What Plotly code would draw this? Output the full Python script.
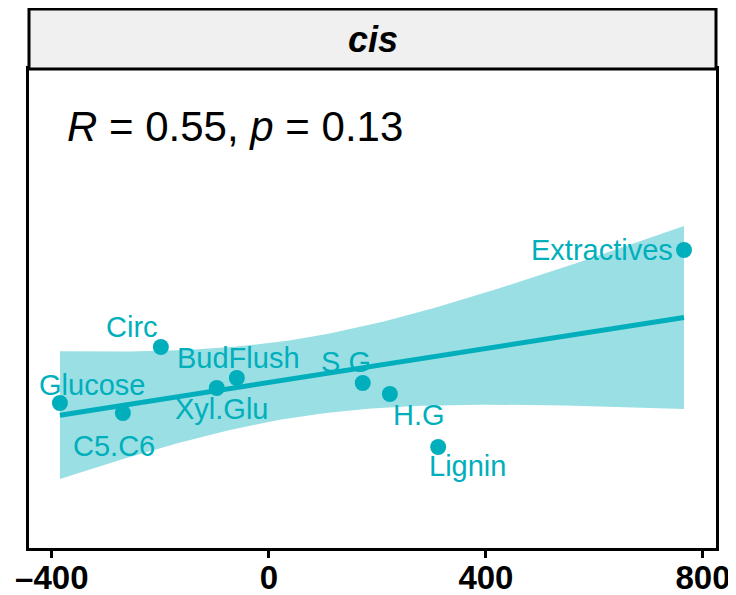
import numpy as np
import plotly.graph_objects as go

# Data (y axis has no labels, so y is in arbitrary units)
labels = ["Extractives", "Circ", "BudFlush", "S.G", "H.G", "Glucose", "Xyl.Glu", "C5.C6", "Lignin"]
x_vals = [765, -199, -59, 173, 223, -385, -96, -269, 312]
y_vals = [29.8, 20.1, 17.0, 16.5, 15.4, 14.5, 16.0, 13.5, 10.1]
stat_label = "<i>R</i> = 0.55, <i>p</i> = 0.13"
panel_title = "cis"
x_ticks = [-400, 0, 400, 800]

# label placement (pixel offsets from each point, like ggrepel output)
label_shift = {
    "Extractives": (-9, 0, "right"),
    "Circ": (-29, 20, "center"),
    "BudFlush": (2, 20, "center"),
    "S.G": (-17, 21, "center"),
    "H.G": (29, -21, "center"),
    "Glucose": (32, 18, "center"),
    "Xyl.Glu": (5, -21, "center"),
    "C5.C6": (-9, -33, "center"),
    "Lignin": (29, -19, "center"),
}

COL = "#00AFBB"
BAND = "rgba(0,175,187,0.4)"
FONT = "Liberation Sans, Arial, sans-serif"


def linear_fit(x, y, n_pts=80, t_crit=2.364624):
    """Least squares line with 95% confidence band (like geom_smooth(method='lm'))."""
    x = np.asarray(x, float)
    y = np.asarray(y, float)
    n = len(x)
    slope, intercept = np.polyfit(x, y, 1)
    resid = y - (slope * x + intercept)
    s = np.sqrt(np.sum(resid ** 2) / (n - 2))
    sxx = np.sum((x - x.mean()) ** 2)
    xs = np.linspace(x.min(), x.max(), n_pts)
    fit = slope * xs + intercept
    se = s * np.sqrt(1 / n + (xs - x.mean()) ** 2 / sxx)
    return xs, fit, fit - t_crit * se, fit + t_crit * se


xs, fit, lo, hi = linear_fit(x_vals, y_vals)

fig = go.Figure()
fig.add_trace(go.Scatter(
    x=np.concatenate([xs, xs[::-1]]), y=np.concatenate([hi, lo[::-1]]),
    fill="toself", fillcolor=BAND, line=dict(width=0), mode="lines",
    hoverinfo="skip", showlegend=False))
fig.add_trace(go.Scatter(x=xs, y=fit, mode="lines", line=dict(color=COL, width=5),
                         showlegend=False))
fig.add_trace(go.Scatter(x=x_vals, y=y_vals, mode="markers",
                         marker=dict(color=COL, size=16), showlegend=False))

for lab, xv, yv in zip(labels, x_vals, y_vals):
    dx, dy, anchor = label_shift[lab]
    fig.add_annotation(x=xv, y=yv, text=lab, showarrow=False, xshift=dx, yshift=dy,
                       xanchor=anchor, yanchor="middle",
                       font=dict(family=FONT, size=29, color=COL))

fig.add_annotation(xref="paper", yref="paper", x=0.052, y=0.881, text=stat_label,
                   showarrow=False, xanchor="left", yanchor="middle",
                   font=dict(family=FONT, size=42, color="black"))

# facet strip
strip_h = 60 / 479
fig.add_shape(type="rect", xref="paper", yref="paper", x0=0, x1=1, y0=1, y1=1 + strip_h,
              fillcolor="#F0F0F0", line=dict(color="black", width=3))
fig.add_annotation(xref="paper", yref="paper", x=0.5, y=1 + strip_h / 2,
                   text="<b><i>" + panel_title + "</i></b>", showarrow=False,
                   xanchor="center", yanchor="middle",
                   font=dict(family=FONT, size=36, color="black"))

# page body adds an 8px offset, margins account for it
fig.update_layout(
    width=736, height=595,
    margin=dict(l=21, r=28, t=61, b=55),
    paper_bgcolor="white", plot_bgcolor="white",
    xaxis=dict(range=[-442, 824], tickvals=x_ticks, ticktext=[str(t).replace("-", "\u2013") for t in x_ticks],
               automargin=False, ticklabelstandoff=-9,
               showgrid=False, zeroline=False, showline=True, mirror=True,
               linecolor="black", linewidth=3, ticks="outside", ticklen=7, tickwidth=3,
               tickcolor="black", tickfont=dict(family=FONT, size=33, color="black", weight="bold")),
    yaxis=dict(range=[0, 47.9], automargin=False, showgrid=False, zeroline=False, showline=True,
               mirror=True, linecolor="black", linewidth=3, showticklabels=False, ticks=""),
    showlegend=False,
)

fig.write_html("out.html")
